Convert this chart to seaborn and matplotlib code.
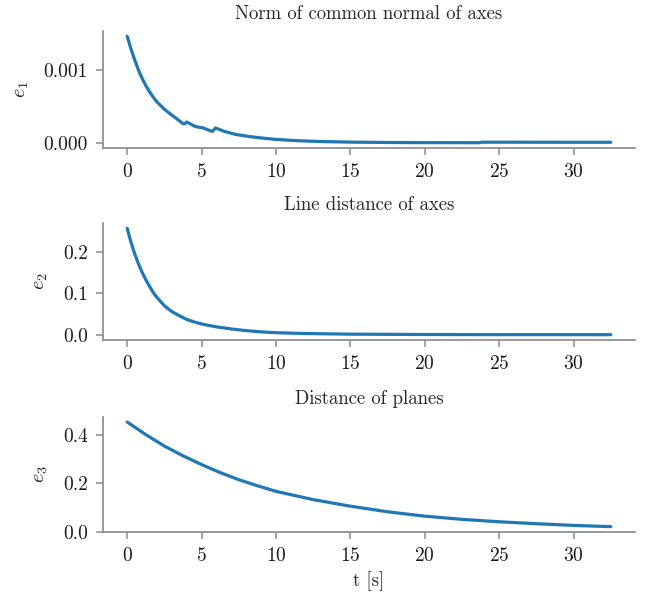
import numpy as np
import pandas as pd
import matplotlib
matplotlib.use("Agg")
import matplotlib.pyplot as plt
import seaborn as sns
from matplotlib.ticker import FormatStrFormatter

# values
t1 = [0, 0.25, 0.5, 0.75, 1.0, 1.25, 1.5, 1.75, 2.0, 2.5, 2.9, 3.3, 3.75, 3.88, 4.0,
      4.55, 4.9, 5.1, 5.66, 5.75, 5.93, 6.55, 7.3, 8.2, 9.0, 10.0, 11.5, 13.0, 15.0,
      17.5, 20.0, 23.7, 23.8, 26.0, 29.0, 32.5]
e1 = [1.46e-3, 1.29e-3, 1.14e-3, 1.0e-3, 0.885e-3, 0.785e-3, 0.70e-3, 0.625e-3,
      0.56e-3, 0.46e-3, 0.395e-3, 0.335e-3, 0.262e-3, 0.262e-3, 0.285e-3,
      0.225e-3, 0.21e-3, 0.205e-3, 0.158e-3, 0.160e-3, 0.203e-3, 0.155e-3,
      0.114e-3, 0.086e-3, 0.066e-3, 0.046e-3, 0.028e-3, 0.017e-3, 0.009e-3,
      0.004e-3, 0.002e-3, 0.001e-3, 0.008e-3, 0.008e-3, 0.007e-3, 0.007e-3]

t2 = [0, 0.25, 0.5, 0.75, 1.0, 1.25, 1.5, 1.75, 2.0, 2.5, 3.0, 3.5, 4.0, 4.5, 5.0,
      6.0, 7.0, 8.0, 9.0, 10.0, 12.0, 15.0, 20.0, 25.0, 32.5]
e2 = [0.257, 0.224, 0.196, 0.172, 0.151, 0.133, 0.117, 0.102, 0.090, 0.070, 0.056,
      0.046, 0.037, 0.031, 0.026, 0.019, 0.014, 0.010, 0.007, 0.005, 0.003, 0.0015,
      0.0006, 0.0003, 0.0002]

t3 = [0, 1.25, 2.5, 3.75, 5.0, 6.25, 7.5, 8.75, 10.0, 12.5, 15.0, 17.5, 20.0, 22.5,
      25.0, 27.5, 30.0, 32.5]
e3 = [0.452, 0.40, 0.353, 0.313, 0.277, 0.244, 0.215, 0.19, 0.167, 0.133, 0.106,
      0.083, 0.065, 0.052, 0.042, 0.034, 0.027, 0.022]

titles = ["Norm of common normal of axes", "Line distance of axes", "Distance of planes"]
ylabels = [r"$e_1$", r"$e_2$", r"$e_3$"]

sns.set_theme(style="ticks")
plt.rcParams["font.family"] = ["cmr10", "DejaVu Serif"]
plt.rcParams["mathtext.fontset"] = "cm"
plt.rcParams["axes.unicode_minus"] = False
plt.rcParams["axes.formatter.use_mathtext"] = True
plt.rcParams["axes.edgecolor"] = "0.55"
plt.rcParams["xtick.color"] = "0.55"
plt.rcParams["ytick.color"] = "0.55"
plt.rcParams["xtick.labelcolor"] = "0.1"
plt.rcParams["ytick.labelcolor"] = "0.1"

fig = plt.figure(figsize=(6.45, 5.94), dpi=100)
positions = [[0.1597, 0.7508, 0.8248, 0.197],
             [0.1597, 0.4276, 0.8248, 0.197],
             [0.1597, 0.1044, 0.8248, 0.194]]
data = [(t1, e1), (t2, e2), (t3, e3)]

for i, (t, e) in enumerate(data):
    ax = fig.add_axes(positions[i])
    df = pd.DataFrame({"t": t, "e": e})
    sns.lineplot(data=df, x="t", y="e", ax=ax, color="#1f77b4", linewidth=2.3)
    ax.set_title(titles[i], fontsize=13.5, pad=9)
    ax.set_ylabel(ylabels[i], fontsize=14.5, labelpad=9)
    ax.set_xlabel("")
    ax.set_xticks([0, 5, 10, 15, 20, 25, 30])
    ax.tick_params(labelsize=14, length=5, width=1.1, pad=6)
    sns.despine(ax=ax)
    if i == 0:
        ax.set_yticks([0, 0.001])
        ax.yaxis.set_major_formatter(FormatStrFormatter("%.3f"))
    elif i == 1:
        ax.set_yticks([0, 0.1, 0.2])
        ax.yaxis.set_major_formatter(FormatStrFormatter("%.1f"))
    else:
        ax.set_ylim(bottom=0)
        ax.set_yticks([0, 0.2, 0.4])
        ax.yaxis.set_major_formatter(FormatStrFormatter("%.1f"))
        ax.set_xlabel("t [s]", fontsize=13.5, labelpad=4)

fig.savefig("out.png", dpi=100)
